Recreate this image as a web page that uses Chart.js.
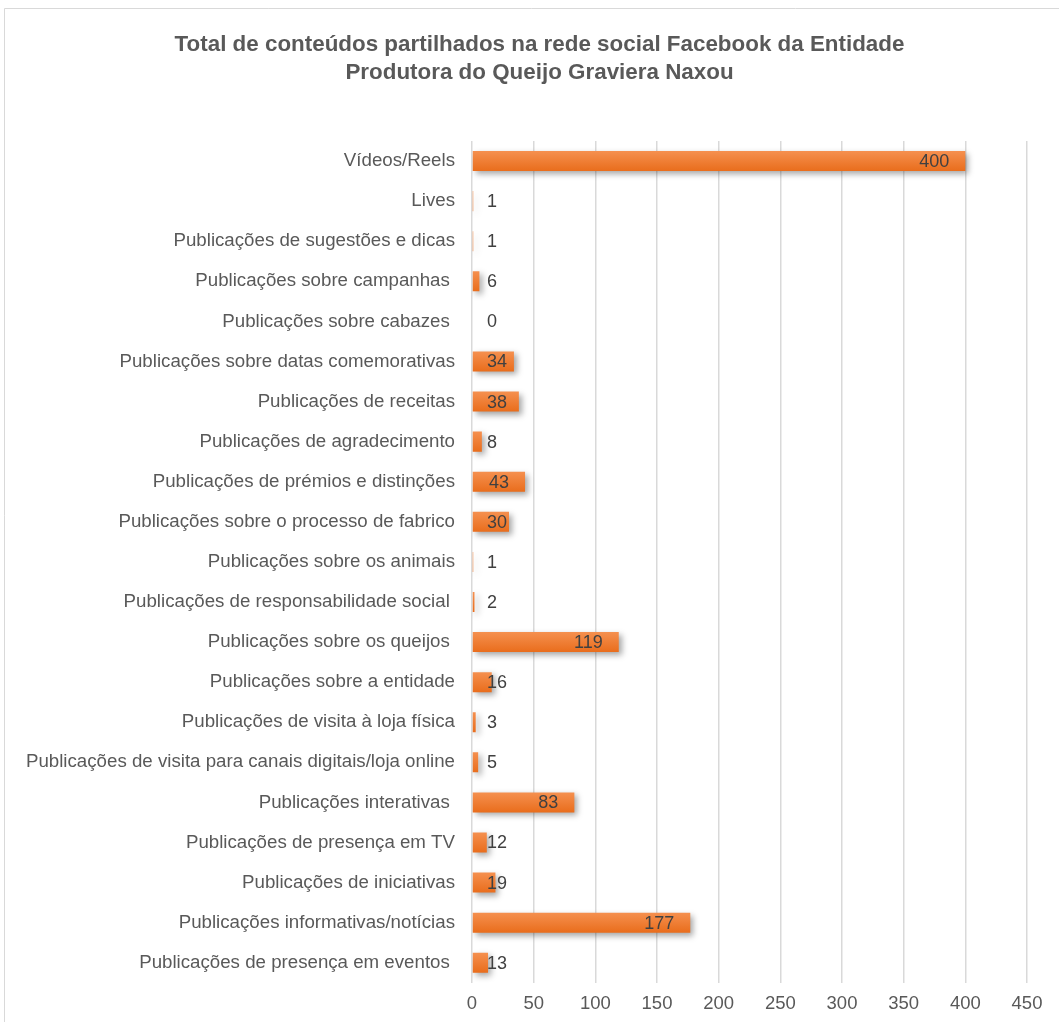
<!DOCTYPE html>
<html>
<head>
<meta charset="utf-8">
<script src="https://cdn.jsdelivr.net/npm/chart.js@4.4.1/dist/chart.umd.min.js"></script>
<style>
  html, body { margin: 0; padding: 0; background: #fff; }
  #wrap { position: absolute; left: 0; top: 0; width: 1059px; height: 1022px; }
</style>
</head>
<body>
<div id="wrap"><canvas id="chart"></canvas></div>
<script>
// dados
const categories = [
  'Vídeos/Reels',
  'Lives',
  'Publicações de sugestões e dicas',
  'Publicações sobre campanhas ',
  'Publicações sobre cabazes ',
  'Publicações sobre datas comemorativas',
  'Publicações de receitas',
  'Publicações de agradecimento',
  'Publicações de prémios e distinções',
  'Publicações sobre o processo de fabrico',
  'Publicações sobre os animais',
  'Publicações de responsabilidade social ',
  'Publicações sobre os queijos ',
  'Publicações sobre a entidade',
  'Publicações de visita à loja física',
  'Publicações de visita para canais digitais/loja online',
  'Publicações interativas ',
  'Publicações de presença em TV',
  'Publicações de iniciativas',
  'Publicações informativas/notícias',
  'Publicações de presença em eventos '
];
const values = [400, 1, 1, 6, 0, 34, 38, 8, 43, 30, 1, 2, 119, 16, 3, 5, 83, 12, 19, 177, 13];
const titleLines = [
  'Total de conteúdos partilhados na rede social Facebook da Entidade',
  'Produtora do Queijo Graviera Naxou'
];
const xMax = 450;
const xStep = 50;

const FONT = '"Liberation Sans", Arial, sans-serif';
const TEXT = '#595959';

// moldura cinzenta + título (centrado na moldura, não na área do gráfico)
const framePlugin = {
  id: 'frame',
  beforeDraw(chart) {
    const ctx = chart.ctx;
    ctx.save();
    ctx.strokeStyle = '#d9d9d9';
    ctx.lineWidth = 1;
    ctx.beginPath();
    ctx.moveTo(4.5, chart.height);
    ctx.lineTo(4.5, 8.5);
    ctx.lineTo(chart.width, 8.5);
    ctx.stroke();

    ctx.fillStyle = TEXT;
    ctx.font = 'bold 22.4px ' + FONT;
    ctx.textAlign = 'center';
    ctx.textBaseline = 'middle';
    titleLines.forEach((line, i) => ctx.fillText(line, chart.width / 2 + 10, 45 + i * 28));
    ctx.restore();
  }
};

// sombra nas barras
const shadowPlugin = {
  id: 'barShadow',
  beforeDatasetsDraw(chart) {
    const ctx = chart.ctx;
    ctx.save();
    ctx.shadowColor = 'rgba(0,0,0,0.35)';
    ctx.shadowBlur = 6;
    ctx.shadowOffsetX = 3;
    ctx.shadowOffsetY = 3;
  },
  afterDatasetsDraw(chart) {
    chart.ctx.restore();
  }
};

// rótulos de valor (estilo Excel "interior na extremidade")
const valueLabels = {
  id: 'valueLabels',
  afterDatasetsDraw(chart) {
    const ctx = chart.ctx;
    const meta = chart.getDatasetMeta(0);
    const x0 = chart.scales.x.getPixelForValue(0);
    ctx.save();
    ctx.font = '18px ' + FONT;
    ctx.fillStyle = '#404040';
    ctx.textAlign = 'left';
    ctx.textBaseline = 'middle';
    meta.data.forEach((bar, i) => {
      const txt = String(values[i]);
      const w = ctx.measureText(txt).width;
      const left = Math.max(bar.x - 16 - w, x0 + 15);
      ctx.fillText(txt, left, bar.y + 1);
    });
    ctx.restore();
  }
};

function barFill(c) {
  const chart = c.chart;
  const y = chart.scales && chart.scales.y;
  if (!y || c.dataIndex === undefined) return '#ee7a2c';
  const yc = y.getPixelForValue(c.dataIndex);
  if (!isFinite(yc)) return '#ee7a2c';
  const g = chart.ctx.createLinearGradient(0, yc - 10, 0, yc + 10);
  g.addColorStop(0, '#f5904f');
  g.addColorStop(1, '#e96d1c');
  return g;
}

const ctx = document.getElementById('chart').getContext('2d');

new Chart(ctx, {
  type: 'bar',
  data: {
    labels: categories,
    datasets: [{
      data: values,
      backgroundColor: barFill,
      borderWidth: 0,
      barPercentage: 0.5,
      categoryPercentage: 1.0
    }]
  },
  options: {
    indexAxis: 'y',
    responsive: true,
    maintainAspectRatio: false,
    animation: false,
    layout: { padding: { left: 5, right: 32, top: 141, bottom: -3 } },
    plugins: {
      legend: { display: false },
      tooltip: { enabled: false },
      title: { display: false }
    },
    scales: {
      x: {
        min: 0,
        max: xMax,
        ticks: {
          stepSize: xStep,
          color: TEXT,
          font: { family: FONT, size: 18.5 },
          padding: 10
        },
        grid: { color: '#d9d9d9', lineWidth: 1.5, drawTicks: false },
        border: { display: false }
      },
      y: {
        ticks: {
          color: TEXT,
          font: { family: FONT, size: 18.7 },
          padding: 17,
          autoSkip: false
        },
        grid: { display: false, drawTicks: false },
        border: { display: false },
        afterFit(scale) { scale.width = 467; }
      }
    }
  },
  plugins: [framePlugin, shadowPlugin, valueLabels]
});
</script>
</body>
</html>
